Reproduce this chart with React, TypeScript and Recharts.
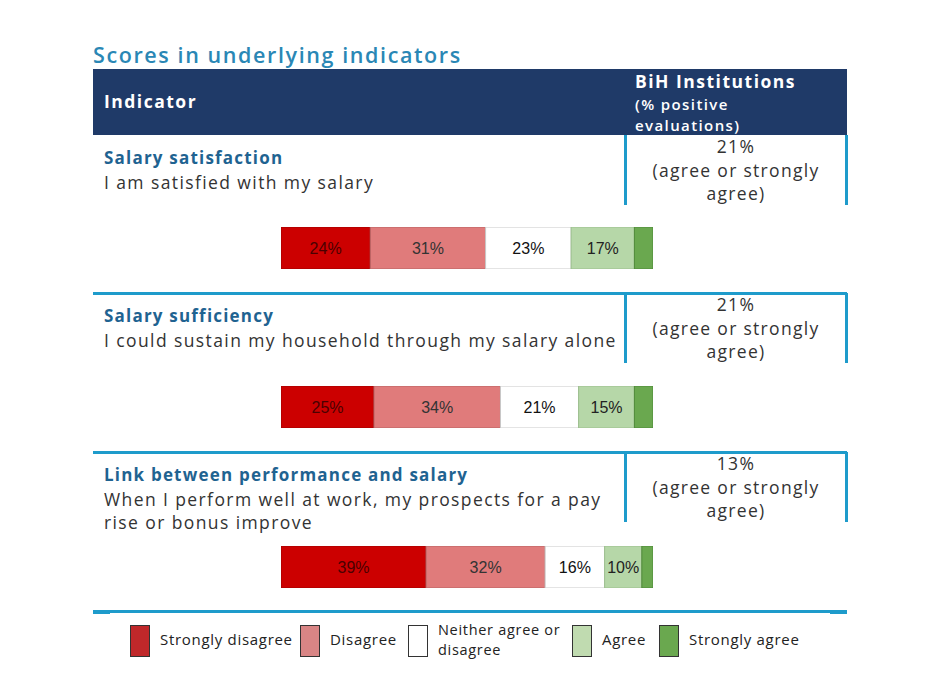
import React from 'react';
import { BarChart, Bar, XAxis, YAxis, LabelList } from 'recharts';

const indicators = ['Salary satisfaction', 'Salary sufficiency', 'Link between performance and salary'];
const statements = [
  ['I am satisfied with my salary'],
  ['I could sustain my household through my salary alone'],
  ['When I perform well at work, my prospects for a pay', 'rise or bonus improve'],
];
const positive = ['21%', '21%', '13%'];

const stronglyDisagree = [24, 25, 39];
const disagree = [31, 34, 32];
const neither = [23, 21, 16];
const agree = [17, 15, 10];
const stronglyAgree = [5, 5, 3];

const series = [
  { key: 'sd', name: ['Strongly disagree'], values: stronglyDisagree, fill: '#cc0000', stroke: '#a00000', text: '#4a0000', legend: '#c0282a' },
  { key: 'd', name: ['Disagree'], values: disagree, fill: '#e07b7b', stroke: '#b86565', text: '#333', legend: '#d98585' },
  { key: 'n', name: ['Neither agree or', 'disagree'], values: neither, fill: '#ffffff', stroke: '#c8c8c8', text: '#111', legend: '#ffffff' },
  { key: 'a', name: ['Agree'], values: agree, fill: '#b6d7a8', stroke: '#9cbf8e', text: '#222', legend: '#c0dbb0' },
  { key: 'sa', name: ['Strongly agree'], values: stronglyAgree, fill: '#6aa84f', stroke: '#4f8a3a', text: '', legend: '#6aa84f' },
];

const rowTops = [135, 293, 452];
const barTops = [227, 386, 546];

const BLUE = '#1e9bcb';
const FONT = '"Open Sans", sans-serif';

const pct = (v: any) => `${v}%`;

const Row: React.FC<{ i: number }> = ({ i }) => {
  const top = rowTops[i];
  const data = [{ name: indicators[i], ...Object.fromEntries(series.map((s) => [s.key, s.values[i]])) }];
  return (
    <>
      {i > 0 && <div style={{ position: 'absolute', left: 93, top: top - 1, width: 754, height: 3, background: BLUE }} />}
      <div style={{ position: 'absolute', left: 624, top, width: 3, height: 70, background: BLUE }} />
      <div style={{ position: 'absolute', left: 845, top, width: 3, height: 70, background: BLUE }} />
      <div style={{ position: 'absolute', left: 104, top: top + 11, color: '#1f6391', fontWeight: 700, fontSize: 17, letterSpacing: 1.2 }}>
        {indicators[i]}
      </div>
      {statements[i].map((s, k) => (
        <div key={k} style={{ position: 'absolute', left: 104, top: top + 35 + k * 23, color: '#333', fontSize: 17.5, letterSpacing: 1.4, whiteSpace: 'nowrap' }}>
          {s}
        </div>
      ))}
      <div style={{ position: 'absolute', left: 627, width: 218, top: top + 0, textAlign: 'center', color: '#333', fontSize: 17.5, letterSpacing: 1.3, lineHeight: '23.5px' }}>
        {positive[i]}
        <br />
        (agree or strongly
        <br />
        agree)
      </div>
      <div style={{ position: 'absolute', left: 281, top: barTops[i] }}>
        <BarChart width={372} height={42} data={data} layout="vertical" margin={{ top: 0, right: 0, bottom: 0, left: 0 }} barCategoryGap={0}>
          <XAxis type="number" domain={[0, 100]} hide />
          <YAxis type="category" dataKey="name" hide />
          {series.map((s) => (
            <Bar key={s.key} dataKey={s.key} stackId="a" fill={s.fill} stroke={s.stroke} strokeWidth={1} isAnimationActive={false}>
              {s.text && (
                <LabelList dataKey={s.key} position="center" formatter={pct} fill={s.text} fontSize={16} fontFamily='"Liberation Sans", Arial, sans-serif' />
              )}
            </Bar>
          ))}
        </BarChart>
      </div>
    </>
  );
};

const legendX = [130, 300, 408, 572, 659];

export default function App() {
  return (
    <div style={{ position: 'absolute', left: 0, top: 0, width: 936, height: 694, background: '#fff', fontFamily: FONT }}>
      <div style={{ position: 'absolute', left: 93, top: 40, color: '#2a87b5', fontSize: 21.5, fontWeight: 600, letterSpacing: 1.6 }}>
        Scores in underlying indicators
      </div>
      <div style={{ position: 'absolute', left: 93, top: 69, width: 754, height: 66, background: '#1f3a68' }} />
      <div style={{ position: 'absolute', left: 104, top: 89, color: '#fff', fontSize: 17.5, fontWeight: 700, letterSpacing: 1.5 }}>Indicator</div>
      <div style={{ position: 'absolute', left: 635, top: 69, color: '#fff', fontSize: 17.5, fontWeight: 700, letterSpacing: 1.5 }}>BiH Institutions</div>
      <div style={{ position: 'absolute', left: 635, top: 94, color: '#fff', fontSize: 15, fontWeight: 600, letterSpacing: 1.4, lineHeight: '21px' }}>
        (% positive
        <br />
        evaluations)
      </div>
      {indicators.map((_, i) => (
        <Row key={i} i={i} />
      ))}
      <div style={{ position: 'absolute', left: 93, top: 610, width: 754, height: 3, background: BLUE }} />
      <div style={{ position: 'absolute', left: 93, top: 610, width: 17, height: 4, background: BLUE }} />
      <div style={{ position: 'absolute', left: 830, top: 610, width: 17, height: 4, background: BLUE }} />
      {series.map((s, k) => (
        <React.Fragment key={s.key}>
          <div style={{ position: 'absolute', left: legendX[k], top: 625, width: 18, height: 30, background: s.legend, border: '1px solid #333' }} />
          {s.name.map((line, j) => (
            <div
              key={j}
              style={{
                position: 'absolute',
                left: legendX[k] + 30,
                top: s.name.length > 1 ? 622 + j * 20 : 631,
                color: '#222',
                fontSize: s.name.length > 1 ? 14.5 : 15,
                letterSpacing: 0.7,
                lineHeight: '16px',
                whiteSpace: 'nowrap',
              }}
            >
              {line}
            </div>
          ))}
        </React.Fragment>
      ))}
    </div>
  );
}
